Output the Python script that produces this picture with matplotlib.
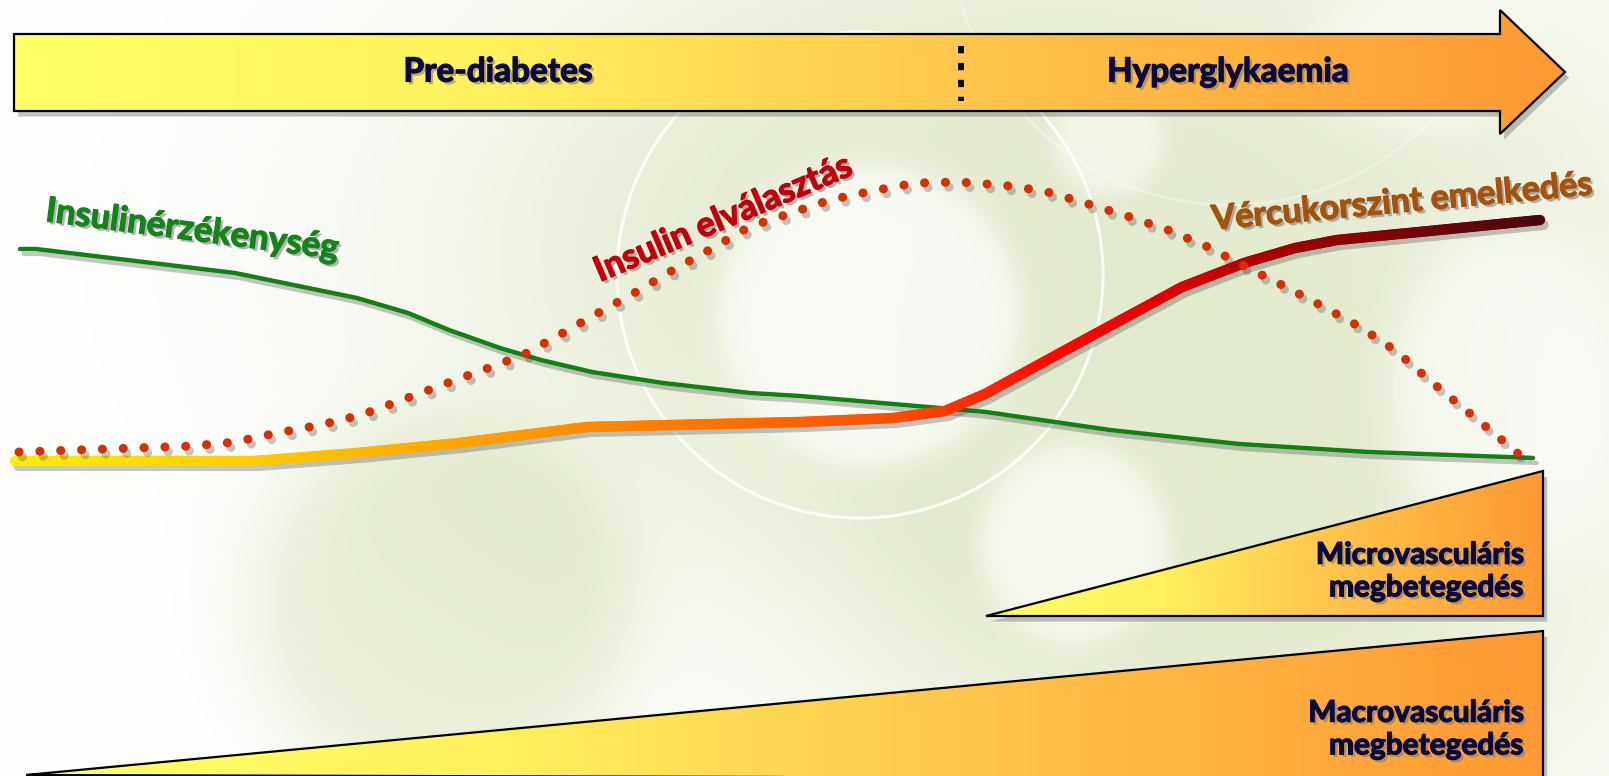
import numpy as np
import matplotlib
matplotlib.use("Agg")
import matplotlib.pyplot as plt
import matplotlib.patheffects as pe
from matplotlib.patches import Polygon, Circle
from matplotlib.collections import LineCollection
from matplotlib.colors import LinearSegmentedColormap

# canvas size in pixels, everything below is laid out in these units
W, H = 1609, 776

stage_labels = ["Pre-diabetes", "Hyperglykaemia"]
risk_labels = ["Microvasculáris\nmegbetegedés", "Macrovasculáris\nmegbetegedés"]

# Insulinérzékenység (solid green)
sens_x = [20, 36, 235, 357, 408, 449, 500, 541, 592, 663, 750, 800, 986, 1110, 1239, 1368, 1533]
sens_y = [249, 249, 273, 298, 313, 330, 348, 360, 372, 383, 393, 396, 412, 430, 444, 452, 458]
sens_label = "Insulinérzékenység"

# Insulin elválasztás (dotted red)
secr_x = [19, 106, 192, 235, 277, 320, 361, 402, 442, 483, 523, 561, 598, 636, 673, 711, 749,
          788, 830, 872, 915, 958, 1002, 1044, 1085, 1127, 1168, 1208, 1246, 1284, 1322, 1360,
          1396, 1428, 1462, 1496, 1528]
secr_y = [452, 449, 446, 442, 433, 425, 415, 400, 385, 370, 355, 334, 313, 292, 270, 249, 227,
          214, 200, 191, 183, 182, 185, 191, 203, 216, 230, 247, 267, 286, 306, 327,
          351, 379, 407, 435, 462]
secr_label = "Insulin elválasztás"

# Vércukorszint emelkedés (thick, yellow -> dark red)
gluc_x = [15, 255, 357, 459, 587, 800, 893, 945, 985, 1084, 1182, 1244, 1295, 1337, 1419, 1540]
gluc_y = [461, 461, 453, 443, 427, 422, 418, 411, 394, 340, 287, 263, 248, 240, 232, 220]
gluc_label = "Vércukorszint emelkedés"

FONT = ["Lato", "DejaVu Sans"]
NAVY = "#0b0b3b"

fill_cmap = LinearSegmentedColormap.from_list(
    "fill", [(0, "#ffff66"), (0.3, "#fff25e"), (0.6, "#ffc84c"), (1, "#ff9933")])
gluc_cmap = LinearSegmentedColormap.from_list(
    "gluc", [(0, "#ffee00"), (0.157, "#ffcc00"), (0.377, "#ff8c00"), (0.58, "#ff4d00"),
             (0.68, "#ff0a00"), (0.764, "#dd0000"), (0.836, "#a00000"), (1, "#4d080c")])

fig = plt.figure(figsize=(W / 100, H / 100), dpi=100)
ax = fig.add_axes([0, 0, 1, 1])
ax.set_xlim(0, W)
ax.set_ylim(H, 0)
ax.axis("off")


# soft background: white fading into pale green with a few light bubbles
gx, gy = np.meshgrid(np.linspace(0, W, 403), np.linspace(0, H, 195))


def blob(cx, cy, rx, ry, soft):
    d = np.sqrt(((gx - cx) / rx) ** 2 + ((gy - cy) / ry) ** 2)
    return 1 / (1 + np.exp((d - 1) / soft))


green = np.clip(blob(1060, 250, 580, 340, 0.22) + 0.75 * blob(440, 610, 190, 190, 0.12)
                + 0.7 * blob(1250, 650, 360, 220, 0.25), 0, 1)
light = np.clip(0.75 * blob(870, 315, 150, 150, 0.06) + 0.65 * blob(1075, 545, 95, 100, 0.08)
                + 0.65 * blob(1510, 400, 120, 170, 0.12) + 0.5 * blob(1110, 140, 55, 55, 0.1)
                + 0.5 * blob(1420, 60, 110, 70, 0.15), 0, 1)
w = green * (1 - light)
pale = np.array([0.89, 0.92, 0.81])
bg = np.ones(gx.shape + (3,)) * (1 - w[..., None]) + pale * w[..., None]
ax.imshow(bg, extent=[0, W, H, 0], interpolation="bilinear", zorder=0, aspect="auto")
ax.add_patch(Circle((860, 275), 243, fill=False, ec="white", lw=2.2, alpha=0.85, zorder=0.5))
ax.add_patch(Circle((1230, -75), 280, fill=False, ec="white", lw=2.0, alpha=0.35, zorder=0.5))

patch_shadow = [pe.SimplePatchShadow(offset=(3, -4), shadow_rgbFace="#555555", alpha=0.35)]
line_shadow = [pe.SimpleLineShadow(offset=(2.5, -3.5), shadow_color="#444444", alpha=0.3)]


def text_fx(color):
    # drop shadow plus a thin stroke to give the heavier bold look
    return [pe.SimplePatchShadow(offset=(2, -2), shadow_rgbFace="#777777", alpha=0.55),
            pe.Stroke(linewidth=0.9, foreground=color), pe.Normal()]


def gradient_shape(verts, x0, x1, z):
    # drop shadow, horizontal gradient clipped to the outline, then the outline itself
    base = Polygon(verts, closed=True, fc="none", ec="none", zorder=z, path_effects=patch_shadow)
    ax.add_patch(base)
    grad = np.linspace(0, 1, 256)[None, :]
    ys = [v[1] for v in verts]
    im = ax.imshow(grad, cmap=fill_cmap, extent=[x0, x1, max(ys), min(ys)],
                   aspect="auto", zorder=z + 0.1, interpolation="bilinear")
    im.set_clip_path(base)
    ax.add_patch(Polygon(verts, closed=True, fc="none", ec="black", lw=1.6, zorder=z + 0.2,
                         joinstyle="miter"))


# stage arrow
gradient_shape([(14, 34), (1500, 34), (1500, 10), (1565, 72), (1500, 134), (1500, 111), (14, 111)],
               14, 1565, 2)
ax.plot([961, 961], [46, 101], color="black", lw=4.2, ls=(0, (1.25, 1.65)),
        solid_capstyle="butt", zorder=3)
for label, cx in zip(stage_labels, [498, 1228]):
    ax.text(cx, 72, label, color=NAVY, fontsize=24, fontweight="bold", family=FONT,
            ha="center", va="center", zorder=4, path_effects=text_fx(NAVY))

# complication wedges
gradient_shape([(986, 616), (1543, 471), (1543, 616)], 986, 1543, 2)
gradient_shape([(26, 775), (1543, 631), (1543, 779)], 26, 1543, 2)
for label, cy in zip(risk_labels, [571, 729]):
    ax.text(1524, cy, label, color=NAVY, fontsize=21.5, fontweight="bold", family=FONT,
            ha="right", va="center", linespacing=1.2, zorder=4, path_effects=text_fx(NAVY))

# insulin sensitivity
ax.plot(sens_x, sens_y, color="#0f820f", lw=3.2, solid_capstyle="round", zorder=5,
        path_effects=line_shadow + [pe.Normal()])

# blood glucose: shadow pass, then colour each straight piece along x
ax.plot(gluc_x, gluc_y, lw=7.5, solid_capstyle="round", zorder=5, path_effects=line_shadow)
segs, cols = [], []
for i in range(len(gluc_x) - 1):
    n = max(2, int((gluc_x[i + 1] - gluc_x[i]) / 4))
    t = np.linspace(0, 1, n + 1)
    px = gluc_x[i] + t * (gluc_x[i + 1] - gluc_x[i])
    py = gluc_y[i] + t * (gluc_y[i + 1] - gluc_y[i])
    for j in range(n):
        segs.append([(px[j], py[j]), (px[j + 1], py[j + 1])])
        cols.append(gluc_cmap((0.5 * (px[j] + px[j + 1]) - gluc_x[0]) / (gluc_x[-1] - gluc_x[0])))
ax.add_collection(LineCollection(segs, colors=cols, linewidths=7.5, capstyle="round", zorder=5.1))

# insulin secretion, dotted
ax.plot(secr_x, secr_y, color="#d63000", lw=6.5, ls=(0, (0.01, 2.3)), dash_capstyle="round",
        zorder=6, path_effects=line_shadow + [pe.Normal()])

# curve labels
ax.text(191, 240, sens_label, color="#14841a", fontsize=25, fontweight="bold", family=FONT,
        rotation=-7.4, rotation_mode="anchor", ha="center", va="baseline", zorder=7,
        path_effects=text_fx("#14841a"))
ax.text(727, 228, secr_label, color="#c0000a", fontsize=25, fontweight="bold", family=FONT,
        rotation=23, rotation_mode="anchor", ha="center", va="baseline", zorder=7,
        path_effects=text_fx("#c0000a"))
ax.text(1403, 212, gluc_label, color="#a5520e", fontsize=24.5, fontweight="bold", family=FONT,
        rotation=5.3, rotation_mode="anchor", ha="center", va="baseline", zorder=7,
        path_effects=text_fx("#a5520e"))

fig.savefig("out.png", dpi=100)
